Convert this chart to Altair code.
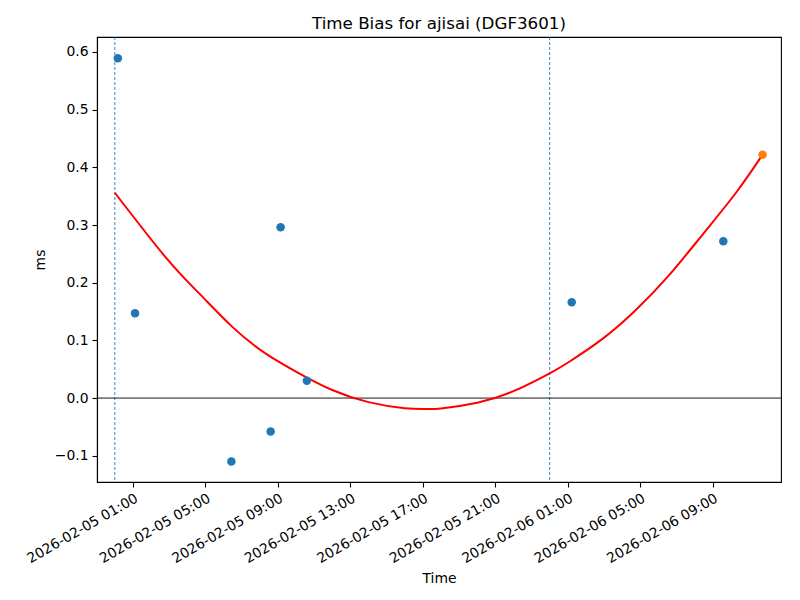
import altair as alt
import pandas as pd

# ---- data ----
obs_times = ["2026-02-05T00:10:00", "2026-02-05T01:07:00", "2026-02-05T06:26:00",
             "2026-02-05T08:36:00", "2026-02-05T09:09:00", "2026-02-05T10:36:00",
             "2026-02-06T01:13:00", "2026-02-06T09:35:00"]
obs_values = [0.589, 0.147, -0.110, -0.058, 0.296, 0.030, 0.166, 0.272]

latest_times = ["2026-02-06T11:45:00"]
latest_values = [0.422]

fit_times = ["2026-02-05T00:00:00", "2026-02-05T02:50:00", "2026-02-05T04:40:00",
             "2026-02-05T06:30:00", "2026-02-05T08:20:00", "2026-02-05T10:10:00",
             "2026-02-05T12:00:00", "2026-02-05T14:00:00", "2026-02-05T16:00:00",
             "2026-02-05T17:10:00", "2026-02-05T18:00:00", "2026-02-05T20:00:00",
             "2026-02-05T22:00:00", "2026-02-06T00:00:00", "2026-02-06T01:05:00",
             "2026-02-06T02:56:00", "2026-02-06T04:46:00", "2026-02-06T06:37:00",
             "2026-02-06T08:27:00", "2026-02-06T10:17:00", "2026-02-06T11:45:00"]
fit_values = [0.356, 0.243, 0.181, 0.123, 0.077, 0.043, 0.014, -0.007, -0.0175,
              -0.019, -0.018, -0.008, 0.012, 0.043, 0.063, 0.103, 0.153, 0.214,
              0.284, 0.356, 0.422]

marker_times = ["2026-02-05T00:00:00", "2026-02-06T00:00:00"]

tick_times = ["2026-02-05T01:00:00", "2026-02-05T05:00:00", "2026-02-05T09:00:00",
              "2026-02-05T13:00:00", "2026-02-05T17:00:00", "2026-02-05T21:00:00",
              "2026-02-06T01:00:00", "2026-02-06T05:00:00", "2026-02-06T09:00:00"]
y_ticks = [-0.1, 0.0, 0.1, 0.2, 0.3, 0.4, 0.5, 0.6]

x_range = ["2026-02-04T23:01:00", "2026-02-06T12:46:00"]
y_range = [-0.1455, 0.626]

title_text = "Time Bias for ajisai (DGF3601)"


def dt(s):
    t = pd.Timestamp(s)
    return alt.DateTime(year=t.year, month=t.month, date=t.day,
                        hours=t.hour, minutes=t.minute)


x_scale = alt.Scale(domain=[dt(s) for s in x_range], nice=False)
y_scale = alt.Scale(domain=y_range, nice=False, zero=False)

x_axis = alt.Axis(values=[dt(s) for s in tick_times], format="%Y-%m-%d %H:%M",
                  labelAngle=-30, labelAlign="right", labelBaseline="top",
                  labelOverlap=False, title="Time", grid=False, tickSize=5,
                  labelPadding=4, titlePadding=6)
y_axis = alt.Axis(values=y_ticks, format=".1f", title="ms", grid=False,
                  labelOverlap=False, tickSize=5, labelPadding=4, titlePadding=7)

obs_df = pd.DataFrame({"time": obs_times, "value": obs_values})
latest_df = pd.DataFrame({"time": latest_times, "value": latest_values})
fit_df = pd.DataFrame({"time": fit_times, "value": fit_values})
marker_df = pd.DataFrame({"time": marker_times})
zero_df = pd.DataFrame({"value": [0.0]})

vlines = alt.Chart(marker_df).mark_rule(
    color="#1f77b4", strokeWidth=0.9, strokeDash=[3, 2]
).encode(x=alt.X("time:T", scale=x_scale, axis=x_axis))

hline = alt.Chart(zero_df).mark_rule(color="black", strokeWidth=0.9).encode(
    y=alt.Y("value:Q", scale=y_scale, axis=y_axis)
)

fit_line = alt.Chart(fit_df).mark_line(
    color="#ff0000", strokeWidth=2, interpolate="natural", clip=True
).encode(
    x=alt.X("time:T", scale=x_scale, axis=x_axis),
    y=alt.Y("value:Q", scale=y_scale, axis=y_axis),
)

points = alt.Chart(obs_df).mark_circle(color="#1f77b4", opacity=1, size=72).encode(
    x=alt.X("time:T", scale=x_scale, axis=x_axis),
    y=alt.Y("value:Q", scale=y_scale, axis=y_axis),
)

latest = alt.Chart(latest_df).mark_circle(color="#ff7f0e", opacity=1, size=72).encode(
    x=alt.X("time:T", scale=x_scale, axis=x_axis),
    y=alt.Y("value:Q", scale=y_scale, axis=y_axis),
)

chart = alt.layer(vlines, hline, fit_line, points, latest).properties(
    width=684,
    height=445,
    autosize=alt.AutoSizeParams(type="none"),
    padding={"left": 89, "top": 29, "right": 10, "bottom": 110},
    background="white",
    title=alt.TitleParams(title_text, fontSize=16.7, font="DejaVu Sans",
                          fontWeight="normal", color="black", anchor="middle",
                          offset=4),
).configure_view(stroke="black", strokeWidth=1.1).configure_axis(
    labelFont="DejaVu Sans", titleFont="DejaVu Sans", labelFontSize=13.9,
    titleFontSize=13.9, titleFontWeight="normal", labelColor="black",
    titleColor="black", domainColor="black", tickColor="black",
    domainWidth=1.1, tickWidth=1.1,
)

chart.save("out.html", embed_options={"renderer": "svg", "actions": False})
